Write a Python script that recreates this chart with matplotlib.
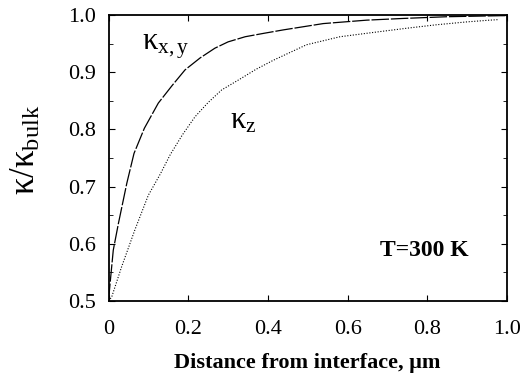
import matplotlib.pyplot as plt
from matplotlib.ticker import MultipleLocator

plt.rcParams['font.family'] = ['Liberation Serif', 'DejaVu Serif']
plt.rcParams['mathtext.fontset'] = 'custom'
plt.rcParams['mathtext.rm'] = 'Liberation Serif'
plt.rcParams['mathtext.it'] = 'Liberation Serif'

# kappa_xy (in-plane)
dist_xy = [0, 0.004, 0.012, 0.025, 0.046, 0.064, 0.09, 0.125, 0.16, 0.192,
           0.23, 0.267, 0.3, 0.343, 0.39, 0.439, 0.539, 0.648, 0.74, 0.85, 1.0]
kappa_xy = [0.5, 0.531, 0.589, 0.636, 0.706, 0.758, 0.802, 0.846, 0.877, 0.904,
            0.925, 0.942, 0.953, 0.962, 0.968, 0.974, 0.985, 0.991, 0.994, 0.997, 0.999]

# kappa_z (cross-plane)
dist_z = [0, 0.008, 0.033, 0.066, 0.1, 0.13, 0.155, 0.185, 0.217, 0.25, 0.284,
          0.33, 0.37, 0.414, 0.497, 0.581, 0.67, 0.75, 0.824, 0.9, 0.957, 0.98]
kappa_z = [0.5, 0.507, 0.56, 0.624, 0.685, 0.722, 0.756, 0.79, 0.822, 0.847, 0.869,
           0.888, 0.905, 0.921, 0.948, 0.962, 0.97, 0.977, 0.983, 0.988, 0.991, 0.992]

fig = plt.figure(figsize=(5.3, 3.75), dpi=100)
ax = fig.add_axes([108.5 / 530, 74 / 375, 398.5 / 530, 286 / 375])

ax.plot(dist_xy, kappa_xy, color='black', lw=0.9, dashes=(14, 1.5))
ax.plot(dist_z, kappa_z, color='black', lw=0.8, ls=(0, (1, 1.5)))

ax.set_xlim(0, 1.0)
ax.set_ylim(0.5, 1.0)
ax.set_xticks([0, 0.2, 0.4, 0.6, 0.8, 1.0])
ax.set_xticklabels(['0', '0.2', '0.4', '0.6', '0.8', '1.0'])
ax.yaxis.set_minor_locator(MultipleLocator(0.05))
ax.tick_params(which='both', direction='in', top=True, right=True, labelsize=16)
ax.tick_params(axis='x', pad=14)
ax.tick_params(axis='y', pad=9)
ax.tick_params(which='major', length=4)
ax.tick_params(which='minor', length=3)
for s in ax.spines.values():
    s.set_linewidth(1.3)

ax.set_xlabel('Distance from interface, \u03bcm', fontsize=16, fontweight='bold', labelpad=10)
ax.set_ylabel('\u03ba/\u03ba$_{\\mathrm{bulk}}$', fontsize=25)
ax.yaxis.set_label_coords(-0.165, 0.53)

ax.text(0.083, 0.939, '\u03ba$_{\\mathrm{x,y}}$', fontsize=22, ha='left', va='baseline')
ax.text(0.305, 0.802, '\u03ba$_{\\mathrm{z}}$', fontsize=22, ha='left', va='baseline')
ax.text(0.681, 0.589, 'T=300 K', fontsize=17, fontweight='bold', ha='left', va='center')

fig.savefig('out.png', dpi=100)
